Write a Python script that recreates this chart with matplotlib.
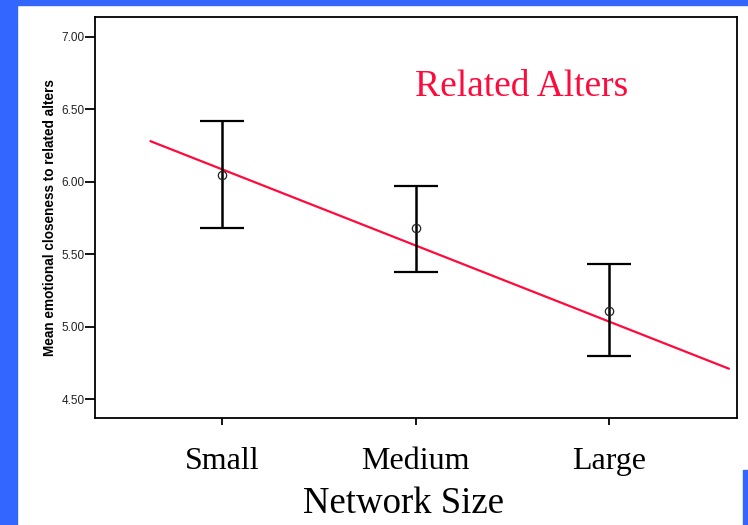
import matplotlib.pyplot as plt
from matplotlib.patches import Rectangle
import numpy as np

# tamaño de red y cercania emocional media (con IC 95%)
grupos = ["Small", "Medium", "Large"]
media = [6.05, 5.68, 5.11]
ic_sup = [6.42, 5.97, 5.43]
ic_inf = [5.68, 5.38, 4.80]

# recta de ajuste (extremos)
ajuste_x = [0.63, 3.62]
ajuste_y = [6.28, 4.71]

azul = '#3366ff'
rojo = '#ff0a3c'

fig = plt.figure(figsize=(7.48, 5.25), dpi=100)
fig.patch.set_facecolor('white')

# marco azul de la diapositiva
fig.patches.append(Rectangle((0, 0), 17/748, 1, transform=fig.transFigure, color=azul, zorder=0))
fig.patches.append(Rectangle((0, 1 - 5/525), 1, 5/525, transform=fig.transFigure, color=azul, zorder=0))
fig.patches.append(Rectangle((743/748, 0), 5/748, 55/525, transform=fig.transFigure, color=azul, zorder=0))

ax = fig.add_axes([95/748, 1 - 418/525, (737 - 95)/748, (418 - 17)/525])

x = np.arange(1, len(grupos) + 1)
media = np.array(media)
err = [media - np.array(ic_inf), np.array(ic_sup) - media]

ax.plot(ajuste_x, ajuste_y, color=rojo, lw=1.6, zorder=2)
ax.errorbar(x, media, yerr=err, fmt='none', ecolor='black', elinewidth=1.8,
            capsize=16, capthick=1.6, zorder=3)
ax.plot(x, media, 'o', ms=6, mfc='none', mec='#222222', mew=0.9, zorder=4)

ax.set_xlim(0.342, 3.663)
ax.set_ylim(4.369, 7.138)
ax.set_yticks([4.5, 5.0, 5.5, 6.0, 6.5, 7.0])
ax.set_yticklabels(['%.2f' % v for v in [4.5, 5.0, 5.5, 6.0, 6.5, 7.0]],
                   fontsize=8.5, family='Liberation Sans', color='#222222')
ax.set_xticks(x)
ax.set_xticklabels(grupos, fontsize=23, family='Liberation Serif')
ax.tick_params(axis='y', length=7, width=1.3, pad=0.5)
ax.tick_params(axis='x', length=5, width=1.3, pad=16)

for s in ax.spines.values():
    s.set_linewidth(1.3)

ax.set_ylabel("Mean emotional closeness to related alters", fontsize=9.8,
              fontweight='bold', family=['Liberation Sans Narrow', 'Liberation Sans'], labelpad=3)
ax.set_xlabel("Network Size", fontsize=26.5, family='Liberation Serif', labelpad=8)
ax.xaxis.set_label_coords(0.48, -0.17)

ax.text(0.665, 0.826, "Related Alters", transform=ax.transAxes, ha='center', va='center',
        fontsize=27, family='Liberation Serif', color=rojo)

fig.savefig('out.png', dpi=100)
